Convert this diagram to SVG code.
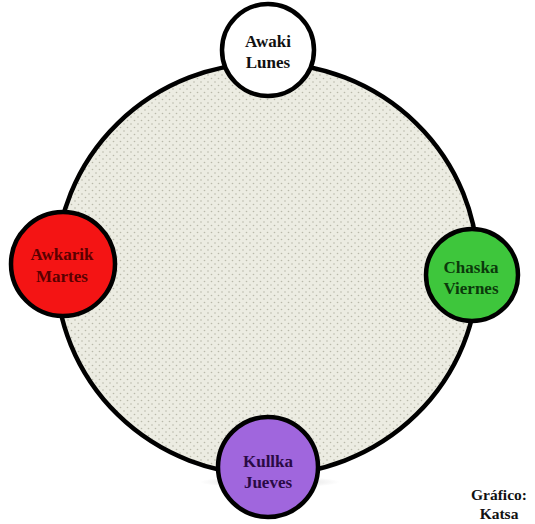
<svg xmlns="http://www.w3.org/2000/svg" width="535" height="524" viewBox="0 0 535 524">
<style>
.node{stroke:#000;stroke-width:4.5}
.lbl{font-family:"Liberation Serif","DejaVu Serif",serif;font-weight:bold;font-size:17px;text-anchor:middle}
.credit{font-family:"Liberation Serif","DejaVu Serif",serif;font-weight:bold;font-size:15.5px;text-anchor:middle;fill:#111}
</style>
<defs>
<pattern id="dots" width="7" height="7" patternUnits="userSpaceOnUse">
<rect width="7" height="7" fill="#ecece2"/>
<circle cx="1.5" cy="1.5" r="0.8" fill="#b9b9aa"/>
<circle cx="5" cy="5" r="0.8" fill="#b9b9aa"/>
</pattern>
<radialGradient id="sh" cx="0.5" cy="0.5" r="0.5">
<stop offset="0" stop-color="#999" stop-opacity="0.5"/>
<stop offset="1" stop-color="#999" stop-opacity="0"/>
</radialGradient>
</defs>
<rect width="535" height="524" fill="#fff"/>
<ellipse cx="270" cy="482" rx="70" ry="6" fill="url(#sh)"/>
<g id="ring">
<ellipse cx="267" cy="269" rx="211" ry="206" fill="url(#dots)" stroke="#000" stroke-width="4.5"/>
</g>
<g id="connectors"></g>
<g id="awaki">
<circle class="node" cx="268" cy="50" r="46" fill="#fff"/>
<text class="lbl" x="268" y="47" fill="#111">Awaki</text>
<text class="lbl" x="268" y="68" fill="#111">Lunes</text>
</g>
<g id="awkarik">
<circle class="node" cx="63" cy="264" r="52" fill="#f41414"/>
<text class="lbl" x="62" y="260" fill="#5a0000">Awkarik</text>
<text class="lbl" x="62" y="282" fill="#5a0000">Martes</text>
</g>
<g id="chaska">
<circle class="node" cx="472" cy="275" r="46" fill="#3ec63c"/>
<text class="lbl" x="471" y="273" fill="#0b3a0b">Chaska</text>
<text class="lbl" x="471" y="294" fill="#0b3a0b">Viernes</text>
</g>
<g id="kullka">
<circle class="node" cx="268" cy="467" r="50" fill="#a066dd"/>
<text class="lbl" x="268" y="467" fill="#2a0a45">Kullka</text>
<text class="lbl" x="268" y="488" fill="#2a0a45">Jueves</text>
</g>
<g id="credit">
<text class="credit" x="499" y="500">Gráfico:</text>
<text class="credit" x="499" y="519">Katsa</text>
</g>
</svg>
